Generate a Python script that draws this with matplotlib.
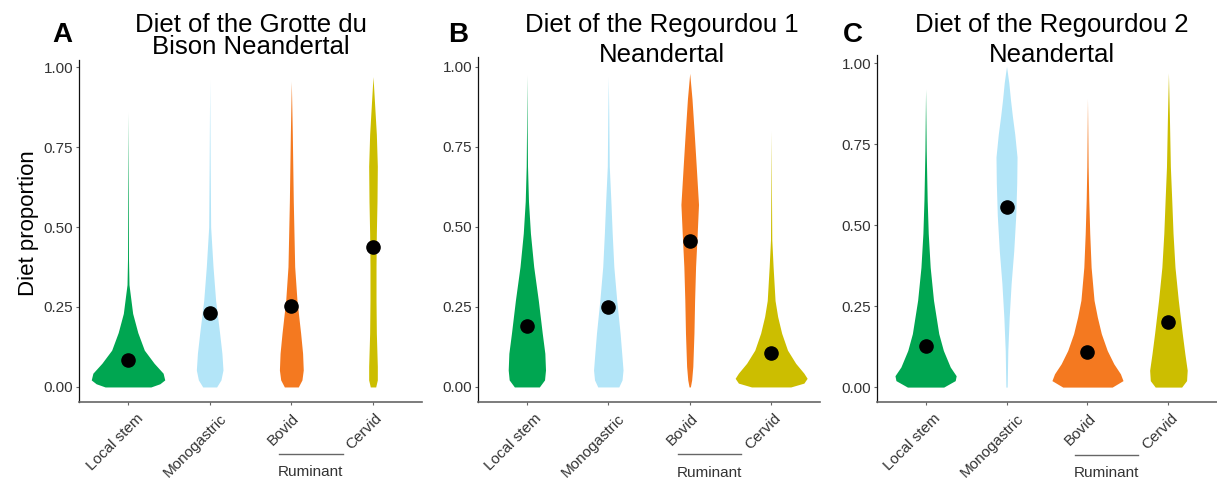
import numpy as np
import matplotlib
matplotlib.use("Agg")
import matplotlib.pyplot as plt
from matplotlib.transforms import ScaledTranslation, blended_transform_factory

plt.rcParams['font.family'] = ['Liberation Sans', 'DejaVu Sans']

categories = ["Local stem", "Monogastric", "Bovid", "Cervid"]
colors = ["#00A651", "#B3E5F8", "#F47920", "#CCBE00"]
letters = ["A", "B", "C"]
titles = ["Diet of the Grotte du\nBison Neandertal",
          "Diet of the Regourdou 1\nNeandertal",
          "Diet of the Regourdou 2\nNeandertal"]
yticks = [0.0, 0.25, 0.5, 0.75, 1.0]

# violin outlines: y levels and half widths (x units)
# panel A - Grotte du Bison
a_local_y = [0, 0.01, 0.022, 0.043, 0.074, 0.115, 0.17, 0.23, 0.32, 0.40, 0.60, 0.86]
a_local_w = [0.28, 0.39, 0.45, 0.43, 0.32, 0.20, 0.12, 0.057, 0.012, 0.006, 0.004, 0.0]
a_mono_y = [0, 0.022, 0.053, 0.105, 0.168, 0.27, 0.376, 0.50, 0.70, 0.96]
a_mono_w = [0.085, 0.138, 0.163, 0.15, 0.122, 0.073, 0.041, 0.012, 0.006, 0.0]
a_bovid_y = [0, 0.022, 0.053, 0.105, 0.168, 0.27, 0.376, 0.58, 0.79, 0.955]
a_bovid_w = [0.085, 0.13, 0.146, 0.138, 0.114, 0.069, 0.041, 0.024, 0.012, 0.0]
a_cervid_y = [0, 0.022, 0.064, 0.168, 0.27, 0.376, 0.48, 0.58, 0.69, 0.79, 0.90, 0.97]
a_cervid_w = [0.033, 0.053, 0.053, 0.041, 0.037, 0.037, 0.041, 0.049, 0.053, 0.041, 0.016, 0.0]
a_means = [0.084, 0.23, 0.254, 0.436]

# panel B - Regourdou 1
b_local_y = [0, 0.022, 0.053, 0.105, 0.168, 0.27, 0.376, 0.48, 0.58, 0.69, 0.80, 0.975]
b_local_w = [0.153, 0.217, 0.229, 0.221, 0.189, 0.141, 0.084, 0.044, 0.020, 0.008, 0.004, 0.0]
b_mono_y = [0, 0.022, 0.053, 0.105, 0.168, 0.27, 0.376, 0.48, 0.58, 0.69, 0.85, 0.97]
b_mono_w = [0.129, 0.169, 0.181, 0.165, 0.145, 0.104, 0.068, 0.048, 0.032, 0.012, 0.006, 0.0]
b_bovid_y = [0, 0.022, 0.064, 0.168, 0.27, 0.376, 0.48, 0.57, 0.69, 0.79, 0.90, 0.98]
b_bovid_w = [0.008, 0.024, 0.038, 0.052, 0.06, 0.072, 0.092, 0.108, 0.08, 0.056, 0.028, 0.0]
b_cervid_y = [0, 0.012, 0.027, 0.043, 0.074, 0.115, 0.168, 0.22, 0.27, 0.376, 0.46, 0.60, 0.80]
b_cervid_w = [0.241, 0.402, 0.442, 0.402, 0.301, 0.201, 0.129, 0.08, 0.048, 0.024, 0.008, 0.004, 0.0]
b_means = [0.19, 0.249, 0.457, 0.107]

# panel C - Regourdou 2
c_local_y = [0, 0.02, 0.035, 0.062, 0.113, 0.165, 0.268, 0.37, 0.474, 0.577, 0.73, 0.92]
c_local_w = [0.224, 0.366, 0.378, 0.305, 0.22, 0.163, 0.098, 0.057, 0.033, 0.02, 0.008, 0.0]
c_mono_y = [0, 0.113, 0.216, 0.32, 0.42, 0.53, 0.63, 0.71, 0.78, 0.835, 0.887, 0.94, 0.99]
c_mono_w = [0.008, 0.016, 0.033, 0.057, 0.089, 0.114, 0.126, 0.13, 0.102, 0.073, 0.049, 0.028, 0.0]
c_bovid_y = [0, 0.02, 0.041, 0.072, 0.113, 0.165, 0.216, 0.268, 0.37, 0.474, 0.577, 0.68, 0.89]
c_bovid_w = [0.305, 0.439, 0.407, 0.325, 0.244, 0.171, 0.122, 0.081, 0.045, 0.028, 0.016, 0.008, 0.0]
c_cervid_y = [0, 0.02, 0.052, 0.103, 0.165, 0.268, 0.37, 0.474, 0.577, 0.68, 0.835, 0.97]
c_cervid_w = [0.163, 0.224, 0.232, 0.203, 0.171, 0.122, 0.081, 0.057, 0.041, 0.024, 0.012, 0.0]
c_means = [0.127, 0.555, 0.108, 0.2]

panels = [
    ([(a_local_y, a_local_w), (a_mono_y, a_mono_w), (a_bovid_y, a_bovid_w), (a_cervid_y, a_cervid_w)], a_means),
    ([(b_local_y, b_local_w), (b_mono_y, b_mono_w), (b_bovid_y, b_bovid_w), (b_cervid_y, b_cervid_w)], b_means),
    ([(c_local_y, c_local_w), (c_mono_y, c_mono_w), (c_bovid_y, c_bovid_w), (c_cervid_y, c_cervid_w)], c_means),
]

W, H = 1217, 479
fig = plt.figure(figsize=(W / 100, H / 100), dpi=100)

# axes boxes in pixels: left, bottom, right, top (from top of image)
boxes = [(79, 402, 422, 60), (478, 402, 820, 57), (877, 402, 1217, 55)]
ylims = [(-0.047, 1.022), (-0.047, 1.031), (-0.046, 1.025)]
title_x = [251, 662, 1052]
title_ls = [0.92, 1.33, 1.33]
letter_x = [52, 448, 843]

axes = []
for i, (violins, means) in enumerate(panels):
    l, b, r, t = boxes[i]
    ax = fig.add_axes([l / W, 1 - b / H, (r - l) / W, (b - t) / H])
    axes.append(ax)
    x = np.arange(1, 5)
    for xi, (vy, vw), col in zip(x, violins, colors):
        vy = np.array(vy)
        vw = np.array(vw)
        ax.fill_betweenx(vy, xi - vw, xi + vw, color=col, lw=0)
    ax.scatter(x, means, s=90, color="black", zorder=3)

    ax.set_xlim(0.4, 4.6)
    ax.set_ylim(*ylims[i])
    ax.set_yticks(yticks)
    ax.set_yticklabels(["%.2f" % v for v in yticks])
    ax.set_xticks(x)
    ax.set_xticklabels(categories, rotation=45, ha="right", va="top",
                       rotation_mode="anchor")
    ax.tick_params(axis="both", length=2.2, width=0.8, colors="#666666",
                   labelcolor="#333333", labelsize=11)
    ax.tick_params(axis="y", pad=2)
    ax.tick_params(axis="x", pad=4.5)
    for s in ["top", "right"]:
        ax.spines[s].set_visible(False)
    ax.spines["left"].set_color("#111111")
    ax.spines["left"].set_linewidth(0.9)
    ax.spines["bottom"].set_color("#666666")
    ax.spines["bottom"].set_linewidth(1.2)
    if i == 0:
        ax.set_ylabel("Diet proportion", fontsize=16, labelpad=3)
        ax.yaxis.label.set_y(0.523)

    # ruminant bracket under Bovid / Cervid
    tr = blended_transform_factory(ax.transData, ax.transAxes)
    ax.plot([2.85, 3.63], [-0.152, -0.152], transform=tr, color="#666666",
            lw=1, clip_on=False)
    ax.text(3.24, -0.205, "Ruminant", transform=tr, ha="center", va="center",
            fontsize=11, color="#333333")

    fig.text(title_x[i] / W, 1 - 12.7 / H, titles[i], ha="center", va="top",
             fontsize=18.5, linespacing=title_ls[i])
    fig.text(letter_x[i] / W, 1 - 42 / H, letters[i], ha="left", va="baseline",
             fontsize=20, fontweight="bold")

# rotated tick labels sit a bit right of their ticks, more so for long labels
fig.canvas.draw()
rend = fig.canvas.get_renderer()
for ax in axes:
    for lab in ax.get_xticklabels():
        w = lab.get_window_extent(rend).width
        dx = 0.27 * w - 9
        lab.set_transform(lab.get_transform() +
                          ScaledTranslation(dx / 100, 0, fig.dpi_scale_trans))

fig.savefig("out.png", dpi=100)
